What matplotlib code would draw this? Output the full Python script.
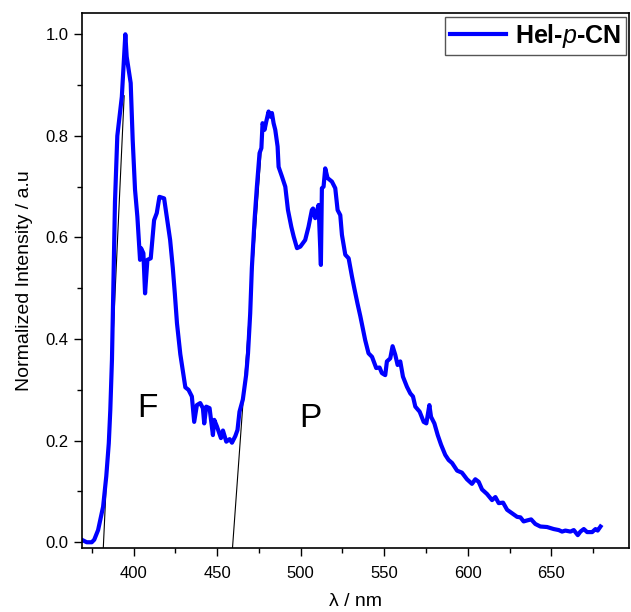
import matplotlib
matplotlib.use('Agg')
import matplotlib.pyplot as plt
from matplotlib.ticker import MultipleLocator

plt.rcParams['font.family'] = ['Liberation Sans', 'DejaVu Sans']
plt.rcParams['mathtext.fontset'] = 'custom'
plt.rcParams['mathtext.rm'] = 'Liberation Sans'
plt.rcParams['mathtext.it'] = 'Liberation Sans:italic'
plt.rcParams['mathtext.bf'] = 'Liberation Sans:bold'

# spectrum
wavelength = [369.0, 372.0, 375.0, 376.5, 378.8, 381.8, 383.7, 385.2, 386.1, 387.1,
              388.9, 390.3, 393.0, 395.1, 395.9, 398.3, 399.5, 400.9, 402.3, 403.9,
              404.5, 405.9, 406.9, 408.3, 410.3, 412.3, 413.9, 415.5, 418.3, 421.9,
              423.5, 424.7, 426.0, 428.0, 431.0, 432.9, 434.9, 436.3, 437.9, 439.9,
              441.5, 442.3, 443.5, 445.5, 447.5, 448.3, 449.9, 452.3, 453.5, 455.5,
              457.5, 458.9, 460.9, 462.2, 463.4, 465.4, 467.4, 468.5, 469.8, 470.8,
              472.4, 473.8, 475.4, 476.5, 477.2, 478.4, 479.4, 480.8, 481.8, 482.8,
              483.8, 484.8, 486.2, 486.8, 488.8, 490.8, 492.4, 494.4, 495.8, 497.8,
              499.8, 502.7, 504.7, 506.7, 507.4, 508.7, 510.7, 512.1, 512.7, 513.7,
              514.7, 516.1, 518.7, 520.7, 522.1, 523.7, 524.7, 526.7, 528.7, 530.7,
              532.1, 534.0, 535.7, 538.6, 540.6, 542.7, 545.2, 547.2, 548.6, 550.6,
              551.6, 553.6, 555.0, 556.6, 558.0, 559.6, 561.2, 563.6, 565.6, 567.2,
              568.6, 571.2, 573.6, 575.2, 577.0, 578.0, 580.0, 582.0, 584.0, 586.5,
              588.5, 590.6, 593.6, 596.5, 599.5, 602.5, 604.5, 606.5, 608.5, 611.5,
              614.5, 616.5, 618.5, 621.1, 623.5, 626.5, 629.5, 631.5, 633.4, 635.5,
              637.9, 640.4, 643.4, 647.4, 651.4, 654.4, 656.4, 658.4, 661.4, 663.4,
              665.8, 667.4, 669.4, 671.4, 674.4, 676.4, 677.7, 679.4]
intensity = [0.005, 0.000, 0.000, 0.005, 0.024, 0.070, 0.130, 0.195, 0.260, 0.360,
             0.670, 0.800, 0.877, 1.000, 0.956, 0.904, 0.792, 0.694, 0.641, 0.556,
             0.579, 0.569, 0.490, 0.556, 0.559, 0.634, 0.648, 0.680, 0.677, 0.595,
             0.540, 0.490, 0.431, 0.370, 0.305, 0.300, 0.287, 0.237, 0.270, 0.274,
             0.264, 0.234, 0.267, 0.264, 0.211, 0.241, 0.228, 0.205, 0.220, 0.198,
             0.203, 0.196, 0.209, 0.221, 0.257, 0.281, 0.330, 0.372, 0.450, 0.540,
             0.634, 0.700, 0.766, 0.776, 0.825, 0.812, 0.828, 0.848, 0.838, 0.845,
             0.825, 0.812, 0.779, 0.739, 0.720, 0.700, 0.654, 0.621, 0.602, 0.579,
             0.582, 0.595, 0.621, 0.654, 0.657, 0.638, 0.664, 0.546, 0.697, 0.700,
             0.736, 0.717, 0.710, 0.697, 0.654, 0.644, 0.605, 0.566, 0.559, 0.523,
             0.500, 0.470, 0.445, 0.398, 0.372, 0.365, 0.343, 0.344, 0.333, 0.329,
             0.356, 0.362, 0.386, 0.369, 0.349, 0.356, 0.326, 0.306, 0.293, 0.287,
             0.267, 0.257, 0.237, 0.234, 0.270, 0.247, 0.234, 0.211, 0.192, 0.172,
             0.162, 0.156, 0.141, 0.137, 0.124, 0.115, 0.124, 0.119, 0.104, 0.095,
             0.083, 0.089, 0.077, 0.078, 0.064, 0.057, 0.050, 0.049, 0.041, 0.043,
             0.045, 0.036, 0.031, 0.030, 0.026, 0.024, 0.021, 0.023, 0.021, 0.024,
             0.014, 0.021, 0.026, 0.020, 0.020, 0.026, 0.023, 0.031]

# onset tangents
tangent_f_x = [381.9, 394.4]
tangent_f_y = [-0.012, 0.879]
tangent_p_x = [459.2, 476.8]
tangent_p_y = [-0.012, 0.790]

fig = plt.figure(figsize=(6.31, 6.12), dpi=100)
ax = fig.add_axes([0.1295, 0.104, 0.868, 0.874])

ax.plot(tangent_f_x, tangent_f_y, color='black', lw=0.8, zorder=1)
ax.plot(tangent_p_x, tangent_p_y, color='black', lw=0.8, zorder=1)
ax.plot(wavelength, intensity, color='#0000ff', lw=3, zorder=2,
        label=r'Hel-$\mathit{p}$-CN')

ax.text(408.3, 0.264, 'F', fontsize=24, ha='center', va='center')
ax.text(505.7, 0.244, 'P', fontsize=24, ha='center', va='center')

ax.set_xlim(369, 696.7)
ax.set_ylim(-0.012, 1.041)
ax.xaxis.set_major_locator(MultipleLocator(50))
ax.xaxis.set_minor_locator(MultipleLocator(25))
ax.yaxis.set_major_locator(MultipleLocator(0.2))
ax.yaxis.set_minor_locator(MultipleLocator(0.1))
ax.yaxis.set_major_formatter(plt.FormatStrFormatter('%.1f'))
ax.tick_params(which='major', direction='out', length=6, width=1, labelsize=12)
ax.tick_params(axis='x', which='major', pad=7)
ax.tick_params(which='minor', direction='out', length=3.5, width=1)
for s in ax.spines.values():
    s.set_linewidth(1.2)

ax.set_xlabel('λ / nm', fontsize=14, labelpad=8)
ax.set_ylabel('Normalized Intensity / a.u', fontsize=14, labelpad=9)

leg = ax.legend(loc='upper right', bbox_to_anchor=(1.0, 1.0), borderaxespad=0.15,
                prop={'size': 18, 'weight': 'bold'}, fancybox=False,
                framealpha=1, edgecolor='#555555', handlelength=2.25,
                handletextpad=0.35, borderpad=0.2)
leg.get_frame().set_linewidth(1.0)

fig.savefig('out.png', dpi=100)
